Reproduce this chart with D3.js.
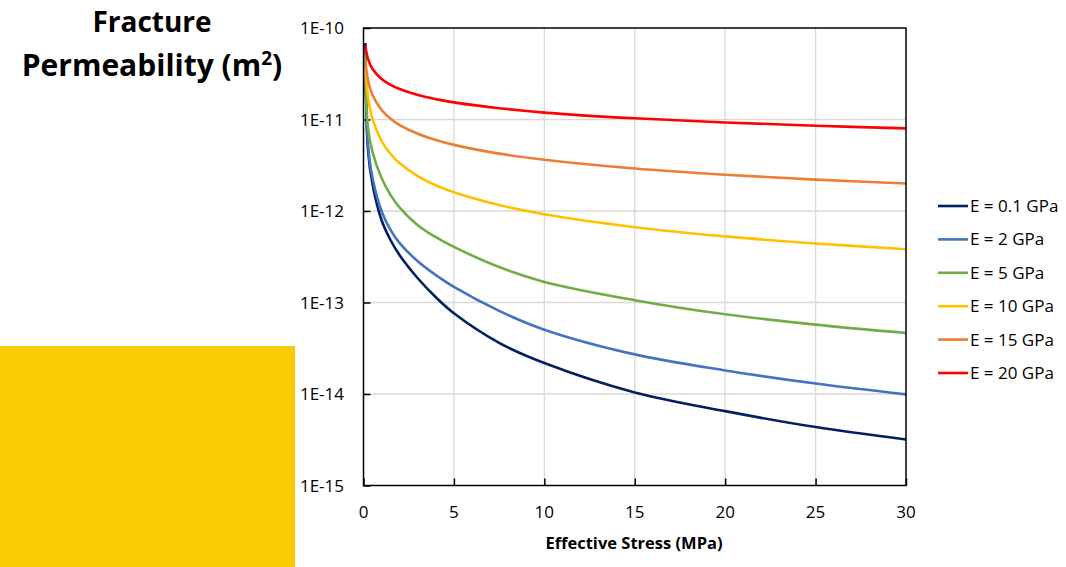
<!DOCTYPE html>
<html>
<head>
<meta charset="utf-8">
<script src="https://cdn.jsdelivr.net/npm/d3@7"></script>
<style>
  body { margin: 0; background: #fff; }
  svg text { font-family: "Open Sans", "Noto Sans", sans-serif; fill: #000; }
</style>
</head>
<body>
<div id="chart"></div>
<script>
// effective stress (MPa)
const stress = [0.1, 0.25, 0.5, 1, 1.5, 2, 3, 4, 5, 7.5, 10, 15, 20, 25, 30];

// fracture permeability (m2) for each Young's modulus
const k01 = [6.85e-11, 4.62e-12, 1.96e-12, 7.93e-13, 4.79e-13, 3.28e-13, 1.84e-13, 1.14e-13, 7.62e-14, 3.62e-14, 2.18e-14, 1.04e-14, 6.5e-15, 4.35e-15, 3.18e-15];
const k2 = [5.74e-11, 5.25e-12, 2.29e-12, 9.95e-13, 6.17e-13, 4.45e-13, 2.82e-13, 1.99e-13, 1.48e-13, 8.1e-14, 5.05e-14, 2.71e-14, 1.81e-14, 1.3e-14, 9.9e-15];
const k5 = [5.0e-11, 8.05e-12, 4.4e-12, 2.29e-12, 1.49e-12, 1.09e-12, 7.0e-13, 5.17e-13, 4.05e-13, 2.44e-13, 1.68e-13, 1.06e-13, 7.43e-14, 5.73e-14, 4.64e-14];
const k10 = [3.66e-11, 1.76e-11, 1.01e-11, 5.81e-12, 4.2e-12, 3.33e-12, 2.41e-12, 1.91e-12, 1.6e-12, 1.16e-12, 9.2e-13, 6.65e-13, 5.28e-13, 4.42e-13, 3.82e-13];
const k15 = [4.43e-11, 2.69e-11, 1.85e-11, 1.27e-11, 1.02e-11, 8.69e-12, 6.98e-12, 5.97e-12, 5.28e-12, 4.24e-12, 3.63e-12, 2.91e-12, 2.49e-12, 2.2e-12, 2.0e-12];
const k20 = [6.41e-11, 4.59e-11, 3.56e-11, 2.77e-11, 2.39e-11, 2.15e-11, 1.85e-11, 1.67e-11, 1.54e-11, 1.33e-11, 1.19e-11, 1.03e-11, 9.27e-12, 8.55e-12, 8.0e-12];

const seriesNames = ["E = 0.1 GPa", "E = 2 GPa", "E = 5 GPa", "E = 10 GPa", "E = 15 GPa", "E = 20 GPa"];
const seriesValues = [k01, k2, k5, k10, k15, k20];
const seriesColors = ["#002060", "#4472C4", "#70AD47", "#FFC000", "#ED7D31", "#FF0000"];

const xTicks = [0, 5, 10, 15, 20, 25, 30];
const yTicks = [1e-15, 1e-14, 1e-13, 1e-12, 1e-11, 1e-10];
const yTickLabels = ["1E-15", "1E-14", "1E-13", "1E-12", "1E-11", "1E-10"];

const W = 1066, H = 567;
const plotL = 363.5, plotR = 906, plotT = 28, plotB = 485.5;

const svg = d3.select("#chart").append("svg")
  .attr("width", W)
  .attr("height", H);

// yellow block, bottom left
svg.append("rect")
  .attr("x", 0).attr("y", 346)
  .attr("width", 295).attr("height", H - 346)
  .attr("fill", "#FACC05");

const x = d3.scaleLinear().domain([0, 30]).range([plotL, plotR]);
const y = d3.scaleLog().domain([1e-15, 1e-10]).range([plotB, plotT]);

// grid
svg.append("g")
  .selectAll("line")
  .data(xTicks.slice(1, -1))
  .join("line")
  .attr("x1", d => x(d)).attr("x2", d => x(d))
  .attr("y1", plotT).attr("y2", plotB)
  .attr("stroke", "#d9d9d9").attr("stroke-width", 1.3);
svg.append("g")
  .selectAll("line")
  .data(yTicks.slice(1, -1))
  .join("line")
  .attr("x1", plotL).attr("x2", plotR)
  .attr("y1", d => y(d)).attr("y2", d => y(d))
  .attr("stroke", "#d9d9d9").attr("stroke-width", 1.3);

// axes (ticks point inward)
const yAxis = svg.append("g")
  .attr("transform", `translate(${plotL},0)`)
  .call(d3.axisRight(y).tickValues(yTicks).tickSize(7).tickFormat(""));
yAxis.select(".domain").remove();
yAxis.selectAll("line").attr("stroke", "#000").attr("stroke-width", 1.5);

const xAxis = svg.append("g")
  .attr("transform", `translate(0,${plotB})`)
  .call(d3.axisTop(x).tickValues(xTicks).tickSize(7).tickFormat(""));
xAxis.select(".domain").remove();
xAxis.selectAll("line").attr("stroke", "#000").attr("stroke-width", 1.5);

// tick labels
svg.append("g")
  .selectAll("text")
  .data(yTicks)
  .join("text")
  .attr("x", 344)
  .attr("y", d => y(d) + 6)
  .attr("text-anchor", "end")
  .style("font-size", "17px")
  .text((d, i) => yTickLabels[i]);

svg.append("g")
  .selectAll("text")
  .data(xTicks)
  .join("text")
  .attr("x", d => x(d))
  .attr("y", 518)
  .attr("text-anchor", "middle")
  .style("font-size", "17px")
  .text(d => d);

// series
const line = d3.line()
  .x(d => x(d[0]))
  .y(d => y(d[1]))
  .curve(d3.curveCatmullRom.alpha(0.5));

seriesValues.forEach((vals, i) => {
  svg.append("path")
    .datum(stress.map((s, j) => [s, vals[j]]))
    .attr("d", line)
    .attr("fill", "none")
    .attr("stroke", seriesColors[i])
    .attr("stroke-width", 2.6)
    .attr("stroke-linejoin", "round");
});

// plot frame
svg.append("rect")
  .attr("x", plotL).attr("y", plotT)
  .attr("width", plotR - plotL).attr("height", plotB - plotT)
  .attr("fill", "none")
  .attr("stroke", "#000")
  .attr("stroke-width", 1.5);

// titles
svg.append("text")
  .attr("x", 152).attr("y", 32)
  .attr("text-anchor", "middle")
  .style("font-size", "28px")
  .style("font-weight", "bold")
  .text("Fracture");
const yt = svg.append("text")
  .attr("x", 152).attr("y", 76)
  .attr("text-anchor", "middle")
  .style("font-size", "30px")
  .style("font-weight", "bold");
yt.append("tspan").text("Permeability (m");
yt.append("tspan").attr("dy", -11).style("font-size", "19px").text("2");
yt.append("tspan").attr("dy", 11).text(")");

svg.append("text")
  .attr("x", 634).attr("y", 549)
  .attr("text-anchor", "middle")
  .style("font-size", "16.5px")
  .style("font-weight", "bold")
  .text("Effective Stress (MPa)");

// legend
const legend = svg.append("g").attr("transform", "translate(938,206)");
seriesNames.forEach((name, i) => {
  const row = legend.append("g").attr("transform", `translate(0,${i * 33.4})`);
  row.append("line")
    .attr("x1", 0).attr("x2", 30)
    .attr("stroke", seriesColors[i])
    .attr("stroke-width", 2.6);
  row.append("text")
    .attr("x", 32).attr("y", 6)
    .style("font-size", "17px")
    .text(name);
});
</script>
</body>
</html>
